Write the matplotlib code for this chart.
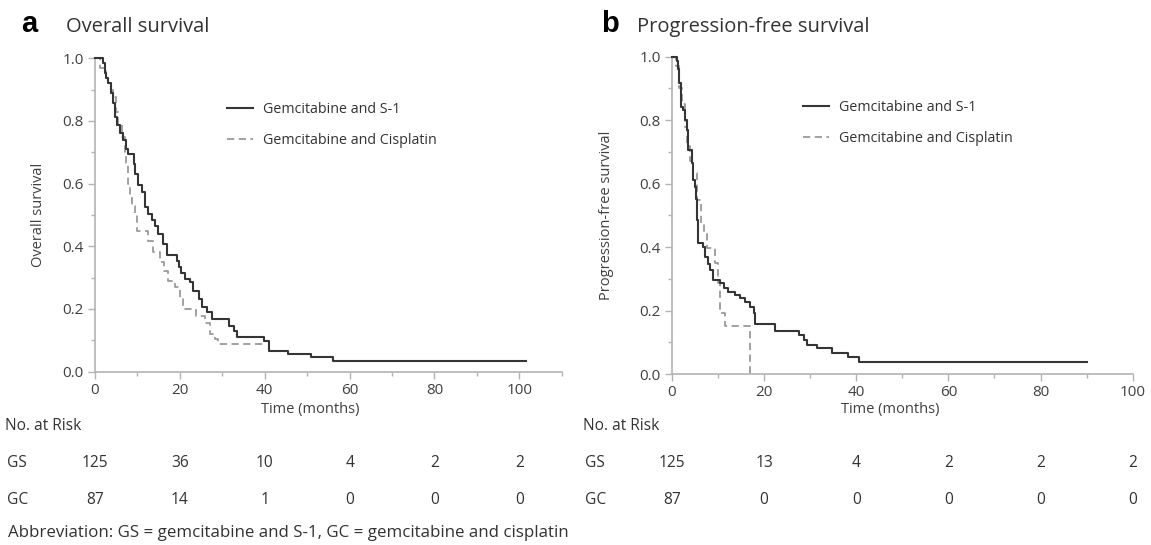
import matplotlib
matplotlib.use("Agg")
import matplotlib.pyplot as plt
import matplotlib.transforms as mtransforms
from matplotlib.ticker import MultipleLocator, FormatStrFormatter

plt.rcParams['font.family'] = ['Open Sans', 'DejaVu Sans']

# ---------------- data ----------------
# Overall survival, Gemcitabine and S-1 (step changes: time in months, survival)
os_gs_t = [0, 2.0, 2.4, 2.7, 3.1, 3.7, 4.2, 4.7, 5.3, 5.9, 6.7, 7.3, 7.8, 9.1, 9.5, 10.2,
           11.0, 11.8, 12.6, 13.4, 14.1, 14.9, 16.1, 16.9, 19.4, 19.8, 20.2, 21.2, 22.4,
           23.2, 24.4, 25.2, 26.4, 27.6, 31.5, 32.7, 33.5, 39.8, 41.0, 45.5, 51.0, 56.1, 101.6]
os_gs_s = [1.0, 0.984, 0.952, 0.936, 0.92, 0.888, 0.856, 0.813, 0.786, 0.76, 0.738, 0.712,
           0.696, 0.664, 0.632, 0.594, 0.573, 0.525, 0.504, 0.485, 0.466, 0.44, 0.408, 0.372,
           0.354, 0.333, 0.315, 0.296, 0.285, 0.258, 0.232, 0.205, 0.189, 0.168, 0.146, 0.130,
           0.109, 0.098, 0.066, 0.055, 0.045, 0.034, 0.034]
# Overall survival, Gemcitabine and Cisplatin
os_gc_t = [0, 1.2, 2.6, 3.1, 3.8, 4.3, 5.0, 5.5, 6.3, 7.1, 7.3, 7.8, 8.2, 8.8, 9.4, 9.8,
           10.0, 12.5, 13.7, 15.3, 16.3, 17.3, 18.8, 20.0, 20.8, 23.9, 26.0, 27.1, 28.2, 29.0, 40.0]
os_gc_s = [1.0, 0.97, 0.94, 0.92, 0.90, 0.877, 0.83, 0.79, 0.75, 0.70, 0.664, 0.60, 0.557,
           0.53, 0.504, 0.466, 0.45, 0.418, 0.381, 0.349, 0.32, 0.29, 0.269, 0.232, 0.20,
           0.178, 0.155, 0.12, 0.104, 0.088, 0.088]
# Progression-free survival, Gemcitabine and S-1
pfs_gs_t = [0, 1.0, 1.3, 1.6, 1.9, 2.3, 2.8, 3.2, 3.5, 4.3, 4.6, 5.0, 5.2, 5.4, 5.7, 6.8,
            7.2, 7.9, 8.3, 9.0, 10.4, 11.2, 12.2, 13.7, 14.8, 15.9, 17.0, 17.7, 18.0, 22.4,
            27.5, 28.6, 29.3, 31.4, 34.7, 38.3, 40.5, 90.0]
pfs_gs_s = [1.0, 0.985, 0.96, 0.916, 0.842, 0.832, 0.80, 0.77, 0.706, 0.664, 0.612, 0.59,
            0.55, 0.485, 0.412, 0.40, 0.37, 0.348, 0.328, 0.296, 0.286, 0.27, 0.26, 0.249,
            0.239, 0.228, 0.212, 0.191, 0.159, 0.134, 0.123, 0.107, 0.092, 0.081, 0.065,
            0.055, 0.039, 0.039]
# Progression-free survival, Gemcitabine and Cisplatin
pfs_gc_t = [0, 0.8, 1.5, 2.2, 2.8, 3.3, 4.0, 4.6, 5.4, 6.4, 7.0, 7.6, 9.4, 10.0, 10.4, 11.5, 17.0]
pfs_gc_s = [1.0, 0.97, 0.90, 0.85, 0.78, 0.72, 0.67, 0.632, 0.548, 0.475, 0.443, 0.396,
            0.349, 0.286, 0.191, 0.151, 0.0]

series_labels = ["Gemcitabine and S-1", "Gemcitabine and Cisplatin"]
risk_times = [0, 20, 40, 60, 80, 100]
os_risk_gs = [125, 36, 10, 4, 2, 2]
os_risk_gc = [87, 14, 1, 0, 0, 0]
pfs_risk_gs = [125, 13, 4, 2, 2, 2]
pfs_risk_gc = [87, 0, 0, 0, 0, 0]
group_labels = ["GS", "GC"]

# ---------------- figure ----------------
W, H = 1151, 545
fig = plt.figure(figsize=(W / 100, H / 100), dpi=100)

def fx(px):
    return px / W

def fy(py):
    return 1 - py / H

axL = fig.add_axes([fx(95), fy(371.5), (561.7 - 95) / W, (371.5 - 58.3) / H])
axR = fig.add_axes([fx(672), fy(374), (1132.7 - 672) / W, (374 - 56.7) / H])

spine_c = '#b3b3b3'
text_c = '#404040'
solid_c = '#353535'
dash_c = '#9a9a9a'

for ax, xmax in ((axL, 110), (axR, 100)):
    ax.set_xlim(0, xmax)
    ax.set_ylim(0, 1.0)
    for s in ('top', 'right'):
        ax.spines[s].set_visible(False)
    for s in ('left', 'bottom'):
        ax.spines[s].set_color(spine_c)
        ax.spines[s].set_linewidth(1.2)
    ax.xaxis.set_major_locator(MultipleLocator(20))
    ax.xaxis.set_minor_locator(MultipleLocator(10))
    ax.yaxis.set_major_locator(MultipleLocator(0.2))
    ax.yaxis.set_minor_locator(MultipleLocator(0.1))
    ax.yaxis.set_major_formatter(FormatStrFormatter('%.1f'))
    ax.tick_params(which='major', length=5, width=1.0, color=spine_c,
                   labelcolor=text_c, labelsize=11, pad=3)
    ax.tick_params(which='minor', length=3, width=1.0, color=spine_c)
    ax.patch.set_visible(False)

def draw(ax, t1, s1, t2, s2, leg_anchor):
    ax.step(t1, s1, where='post', color=solid_c, lw=1.5, label=series_labels[0],
            clip_on=False, zorder=3)
    ax.step(t2, s2, where='post', color=dash_c, lw=1.3, ls=(0, (4, 2.5)),
            label=series_labels[1], clip_on=False, zorder=2)
    leg = ax.legend(loc='upper left', bbox_to_anchor=leg_anchor, frameon=False,
                    fontsize=10.3, handlelength=1.8, handletextpad=0.7,
                    labelspacing=1.12, borderpad=0, borderaxespad=0)
    for t in leg.get_texts():
        t.set_color('#333333')

draw(axL, os_gs_t, os_gs_s, os_gc_t, os_gc_s, (0.283, 0.862))
draw(axR, pfs_gs_t, pfs_gs_s, pfs_gc_t, pfs_gc_s, (0.284, 0.864))

# panel titles
fig.text(fx(21), fy(32), 'a', fontsize=21, fontweight='bold', family='Liberation Sans',
         va='baseline', ha='left', color='black')
fig.text(fx(66), fy(32), 'Overall survival', fontsize=14.5, va='baseline', ha='left', color='#333333')
fig.text(fx(601), fy(32), 'b', fontsize=21, fontweight='bold', family='Liberation Sans',
         va='baseline', ha='left', color='black')
fig.text(fx(637), fy(32), 'Progression-free survival', fontsize=14.5, va='baseline', ha='left',
         color='#333333')

# axis labels
fig.text(fx(38), fy(215), 'Overall survival', rotation=90, fontsize=10.5, va='center',
         ha='center', color=text_c)
fig.text(fx(606), fy(215), 'Progression-free survival', rotation=90, fontsize=10.5,
         va='center', ha='center', color=text_c)
fig.text(fx(310), fy(409), 'Time (months)', fontsize=10.5, va='center', ha='center', color=text_c)
fig.text(fx(890), fy(409), 'Time (months)', fontsize=10.5, va='center', ha='center', color=text_c)

# risk tables
def risk_table(ax, x_left, gs_vals, gc_vals):
    fig.text(fx(x_left), fy(426), 'No. at Risk', fontsize=11.2, va='center', ha='left', color='#333333')
    trans = mtransforms.blended_transform_factory(ax.transData, fig.transFigure)
    for row_y, lab, vals in ((463, group_labels[0], gs_vals), (500, group_labels[1], gc_vals)):
        fig.text(fx(x_left + 2), fy(row_y), lab, fontsize=11.2, va='center', ha='left', color='#333333')
        for tt, v in zip(risk_times, vals):
            ax.text(tt, fy(row_y), str(v), transform=trans, fontsize=11.2, va='center',
                    ha='center', color='#333333', clip_on=False)

risk_table(axL, 5, os_risk_gs, os_risk_gc)
risk_table(axR, 583, pfs_risk_gs, pfs_risk_gc)

fig.text(fx(8), fy(533), 'Abbreviation: GS = gemcitabine and S-1, GC = gemcitabine and cisplatin',
         fontsize=12.2, va='center', ha='left', color='#333333')

fig.savefig('out.png', dpi=100, facecolor='white')
